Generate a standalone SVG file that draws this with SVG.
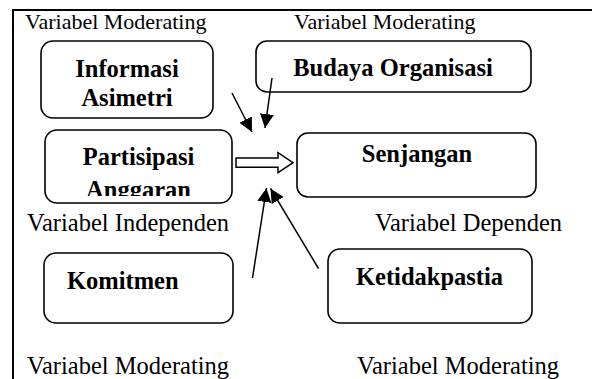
<svg xmlns="http://www.w3.org/2000/svg" width="592" height="379" viewBox="0 0 592 379">
<style>
.box{fill:#fff;stroke:#000;stroke-width:1.6}
.t{font-family:"Liberation Serif","Times New Roman",serif;fill:#000}
.lbl{font-size:24.5px}
.lbl2{font-size:22px}
.b{font-size:24.5px;font-weight:bold}
.ln{stroke:#000;stroke-width:1.5;fill:none}
</style>
<defs>
<marker id="ah" markerUnits="userSpaceOnUse" markerWidth="16" markerHeight="16" refX="14" refY="7" orient="auto">
<path d="M0,0 L14,7 L0,14 z" fill="#000"/>
</marker>
<clipPath id="clipP"><rect x="45" y="130" width="187" height="66"/></clipPath>
</defs>
<rect width="592" height="379" fill="#fff"/>
<path d="M13,379 V10 H592" fill="none" stroke="#000" stroke-width="2"/>
<text class="t lbl2" x="25" y="29">Variabel Moderating</text>
<text class="t lbl2" x="294" y="29">Variabel Moderating</text>
<text class="t lbl" x="27" y="231">Variabel Independen</text>
<text class="t lbl" x="375" y="231">Variabel Dependen</text>
<text class="t lbl" x="27" y="374">Variabel Moderating</text>
<text class="t lbl" x="357" y="374">Variabel Moderating</text>
<g id="informasi">
<rect class="box" x="41" y="41" width="172" height="77" rx="12"/>
<text class="t b" x="127" y="77" text-anchor="middle">Informasi</text>
<text class="t b" x="127" y="106" text-anchor="middle">Asimetri</text>
</g>
<g id="budaya">
<rect class="box" x="256" y="41" width="275" height="51" rx="11"/>
<text class="t b" x="393" y="76" text-anchor="middle">Budaya Organisasi</text>
</g>
<g id="partisipasi">
<rect class="box" x="45" y="130" width="187" height="73" rx="12"/>
<text class="t b" x="138.5" y="165" text-anchor="middle">Partisipasi</text>
<text class="t b" x="138.5" y="198" text-anchor="middle" clip-path="url(#clipP)">Anggaran</text>
</g>
<g id="senjangan">
<rect class="box" x="297" y="133" width="239" height="64" rx="11"/>
<text class="t b" x="417" y="162" text-anchor="middle">Senjangan</text>
</g>
<g id="komitmen">
<rect class="box" x="44" y="253" width="189" height="70" rx="12"/>
<text class="t b" x="67" y="289">Komitmen</text>
</g>
<g id="ketidakpastia">
<rect class="box" x="328" y="249" width="204" height="74" rx="12"/>
<text class="t b" x="356" y="285">Ketidakpastia</text>
</g>
<g id="connectors">
<line class="ln" x1="232" y1="93" x2="252" y2="132" marker-end="url(#ah)"/>
<line class="ln" x1="272" y1="78" x2="265" y2="128" marker-end="url(#ah)"/>
<path d="M236,158 H278 V152.7 L293,162.7 L278,172.7 V167.3 H236 Z" fill="#fff" stroke="#000" stroke-width="1.5"/>
<line class="ln" x1="252.5" y1="278" x2="266.5" y2="188" marker-end="url(#ah)"/>
<line class="ln" x1="318.5" y1="268.5" x2="270.5" y2="188.5" marker-end="url(#ah)"/>
</g>
</svg>
